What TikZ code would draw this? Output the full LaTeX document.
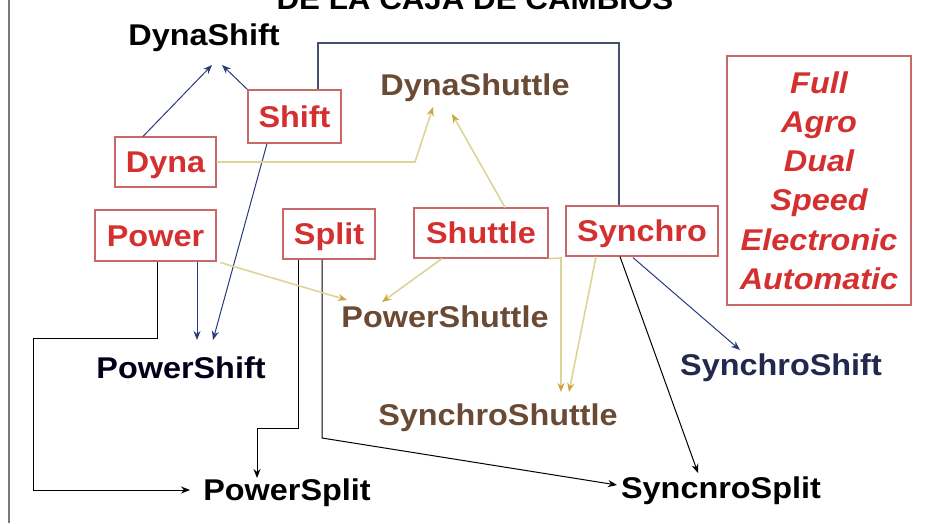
\documentclass[tikz,border=0pt]{standalone}
\usepackage{fontspec}
\setmainfont{Liberation Sans}[FakeStretch=1.08]
\usetikzlibrary{arrows.meta,calc}
\definecolor{boxred}{HTML}{C86868}
\definecolor{txtred}{HTML}{D43030}
\definecolor{navy}{HTML}{2A3A7C}
\definecolor{slate}{HTML}{44506E}
\definecolor{pale}{HTML}{DCD596}
\definecolor{gold}{HTML}{CFA53A}
\definecolor{brownt}{HTML}{6B4A34}
\definecolor{navyt}{HTML}{23284F}
\definecolor{border}{HTML}{7A7A7A}
\tikzset{
  modebox/.style={draw=boxred, line width=1.2pt, fill=white, text=txtred,
    font=\fontsize{30}{36}\selectfont\bfseries, inner sep=0pt,
    text height=21.5pt, text depth=0pt},
  combo/.style={anchor=base, inner sep=0pt, font=\fontsize{30}{36}\selectfont\bfseries},
  navyarrow/.style={navy, line width=1pt, -{Stealth[length=9pt,width=7pt]}},
  blackarrow/.style={black, line width=1pt, -{Stealth[length=9pt,width=7pt]}},
  palearrow/.style={pale, line width=1.6pt, -{Stealth[length=9pt,width=7pt,color=gold]}},
}
\begin{document}
\begin{tikzpicture}[x=1pt,y=-1pt]
\useasboundingbox (0,0) rectangle (939,523);
\clip (0,0) rectangle (939,523);
\fill[white] (0,0) rectangle (939,523);
\draw[border, line width=2pt] (9,0) -- (9,523);
\node[combo, font=\fontsize{29}{34}\selectfont\bfseries] (title) at (475,9) {DE LA CAJA DE CAMBIOS};

% mode boxes
\node[modebox, minimum width=93pt, minimum height=53pt] (shift) at (294.5,116.5) {Shift};
\node[modebox, minimum width=101pt, minimum height=50pt] (dyna) at (165.5,162) {Dyna};
\node[modebox, minimum width=121pt, minimum height=51pt] (power) at (155.5,235.5) {Power};
\node[modebox, minimum width=92pt, minimum height=50pt] (split) at (329,234) {Split};
\node[modebox, minimum width=134pt, minimum height=50pt] (shuttle) at (481,233) {Shuttle};
\node[modebox, minimum width=152pt, minimum height=50pt] (synchro) at (642,231) {Synchro};
\node[draw=boxred, line width=1.2pt, fill=white, text=txtred, align=center,
  inner sep=0pt, minimum width=184pt, minimum height=249pt,
  font=\fontsize{30}{39.2}\selectfont\bfseries\itshape] (modes) at (819,180.5)
  {Full\\Agro\\Dual\\Speed\\Electronic\\Automatic};

% combination labels
\node[combo] (dynashift) at (204,45) {DynaShift};
\node[combo, text=brownt] (dynashuttle) at (475,95) {DynaShuttle};
\node[combo, text=brownt] (powershuttle) at (445,327) {PowerShuttle};
\node[combo, text=brownt] (synchroshuttle) at (498,425) {SynchroShuttle};
\node[combo, text=black!90!blue] (powershift) at (181,378) {PowerShift};
\node[combo, text=navyt] (synchroshift) at (781,375) {SynchroShift};
\node[combo] (powersplit) at (287,500) {PowerSplit};
\node[combo] (syncnrosplit) at (721,498) {SyncnroSplit};

% Shift family (navy)
\draw[navyarrow] ($(dyna.north)+(-22.5,0)$) -- ($(dynashift.base)+(8,20)$);
\draw[navyarrow] (shift.north west) -- ($(dynashift.base)+(18,20)$);
\draw[navyarrow] ($(shift.south)+(-27.5,0)$) -- ($(powershift.base)+(32,-38)$);
\draw[navyarrow] ($(power.south)+(41.5,0)$) -- ($(powershift.base)+(16,-38)$);
\draw[navyarrow] ($(synchro.south)+(-9,1)$) -- ($(synchroshift.base)+(-41,-25)$);
\draw[slate, line width=1.4pt] ($(shift.north)+(23.5,0)$) |- (619,43) -- ($(synchro.north)+(-23,0)$);

% Split family (black)
\draw[blackarrow] ($(power.south)+(1.5,0)$) -- (157,338) -- (33,338) -- (33,490) -- ($(powersplit.base)+(-97,-10)$);
\draw[blackarrow] ($(split.south)+(-31,0)$) -- (298,428) -- (257,428) -- ($(powersplit.base)+(-30,-22)$);
\draw[blackarrow] ($(split.south)+(-7,0)$) -- (322,438) -- ($(syncnrosplit.base)+(-104,-13)$);
\draw[blackarrow] ($(synchro.south)+(-22,0)$) -- ($(syncnrosplit.base)+(-23,-25)$);

% Shuttle family (pale yellow)
\draw[palearrow] (dyna.east) -- (415,162) -- ($(dynashuttle.base)+(-42,12)$);
\draw[palearrow] ($(shuttle.north)+(24,0)$) -- ($(dynashuttle.base)+(-23,19)$);
\draw[palearrow] ($(power.south east)+(4,1)$) -- ($(powershuttle.base)+(-98,-27)$);
\draw[palearrow] ($(shuttle.south)+(-39,0)$) -- ($(powershuttle.base)+(-63,-25)$);
\draw[palearrow] (shuttle.south east) -- (561,258) -- ($(synchroshuttle.base)+(63,-33)$);
\draw[palearrow] ($(synchro.south)+(-46,0)$) -- ($(synchroshuttle.base)+(71,-33)$);
\end{tikzpicture}
\end{document}
